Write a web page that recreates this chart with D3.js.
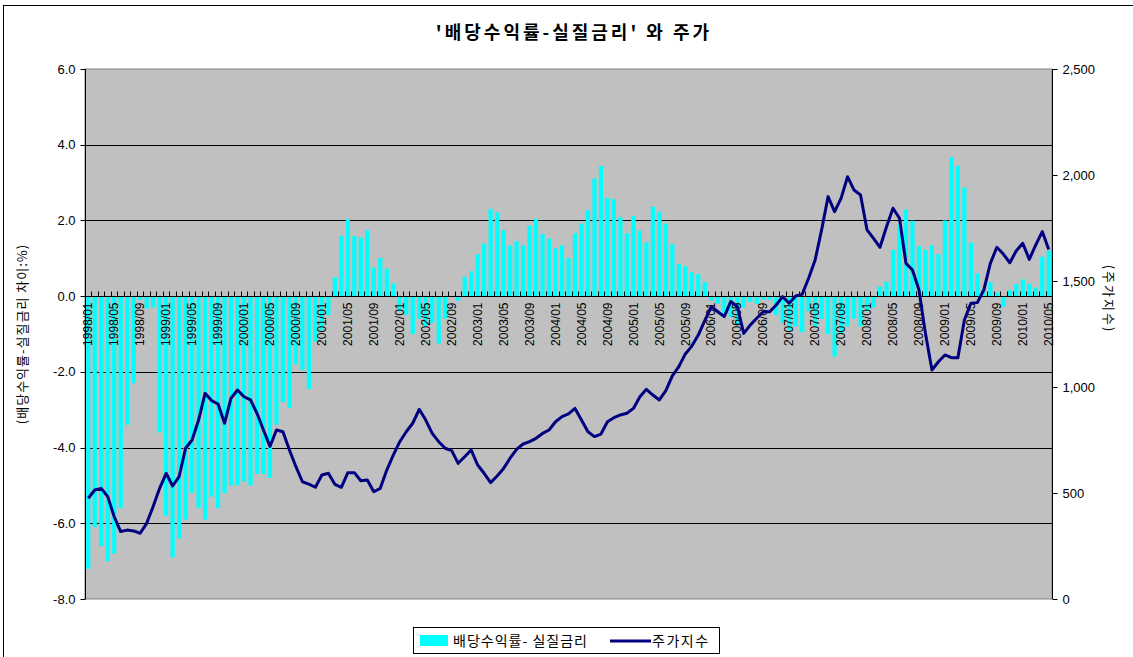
<!DOCTYPE html>
<html>
<head>
<meta charset="utf-8">
<title>배당수익률-실질금리와 주가</title>
<script src="https://d3js.org/d3.v7.min.js"></script>
<style>
  body { margin: 0; background: #fff; }
  text { font-family: "Liberation Sans", Arial, sans-serif; }
  .kr { font-family: "Noto Sans CJK KR", "Noto Sans", sans-serif; }
</style>
</head>
<body>
<svg width="1133" height="657"></svg>
<script>
// months 1998/01 .. 2010/05
const months = [
  "1998/01","1998/02","1998/03","1998/04","1998/05","1998/06","1998/07","1998/08","1998/09","1998/10","1998/11","1998/12",
  "1999/01","1999/02","1999/03","1999/04","1999/05","1999/06","1999/07","1999/08","1999/09","1999/10","1999/11","1999/12",
  "2000/01","2000/02","2000/03","2000/04","2000/05","2000/06","2000/07","2000/08","2000/09","2000/10","2000/11","2000/12",
  "2001/01","2001/02","2001/03","2001/04","2001/05","2001/06","2001/07","2001/08","2001/09","2001/10","2001/11","2001/12",
  "2002/01","2002/02","2002/03","2002/04","2002/05","2002/06","2002/07","2002/08","2002/09","2002/10","2002/11","2002/12",
  "2003/01","2003/02","2003/03","2003/04","2003/05","2003/06","2003/07","2003/08","2003/09","2003/10","2003/11","2003/12",
  "2004/01","2004/02","2004/03","2004/04","2004/05","2004/06","2004/07","2004/08","2004/09","2004/10","2004/11","2004/12",
  "2005/01","2005/02","2005/03","2005/04","2005/05","2005/06","2005/07","2005/08","2005/09","2005/10","2005/11","2005/12",
  "2006/01","2006/02","2006/03","2006/04","2006/05","2006/06","2006/07","2006/08","2006/09","2006/10","2006/11","2006/12",
  "2007/01","2007/02","2007/03","2007/04","2007/05","2007/06","2007/07","2007/08","2007/09","2007/10","2007/11","2007/12",
  "2008/01","2008/02","2008/03","2008/04","2008/05","2008/06","2008/07","2008/08","2008/09","2008/10","2008/11","2008/12",
  "2009/01","2009/02","2009/03","2009/04","2009/05","2009/06","2009/07","2009/08","2009/09","2009/10","2009/11","2009/12",
  "2010/01","2010/02","2010/03","2010/04","2010/05"
];

// 배당수익률 - 실질금리 (%p)
const spread = [
  -7.2,-6.1,-6.6,-7.0,-6.8,-5.6,-3.4,-2.3,-0.1,-0.33,-0.3,-3.6,
  -5.8,-6.9,-6.4,-5.9,-5.2,-5.6,-5.9,-5.3,-5.6,-5.2,-5.0,-5.0,
  -4.9,-5.0,-4.7,-4.7,-4.8,-3.4,-2.8,-2.95,-1.8,-1.95,-2.45,-1.2,
  -0.9,-0.5,0.5,1.59,2.03,1.59,1.55,1.74,0.76,1.01,0.73,0.34,
  -0.4,-0.5,-1.0,-0.6,-0.8,-0.7,-1.25,-0.6,0.0,-0.12,0.51,0.66,
  1.11,1.39,2.3,2.21,1.74,1.34,1.45,1.34,1.86,2.04,1.64,1.52,
  1.26,1.34,1.01,1.66,1.92,2.27,3.11,3.44,2.6,2.56,2.08,1.66,
  2.11,1.73,1.42,2.36,2.23,1.92,1.37,0.85,0.79,0.63,0.58,0.37,
  -0.12,-0.2,-0.45,-0.55,-0.75,-0.3,-0.15,-0.2,-0.1,-0.1,-0.5,-0.7,
  -0.9,-0.8,-0.95,-0.4,-0.8,-0.6,-1.0,-1.6,-1.0,-0.8,-0.6,-0.8,
  -0.4,-0.3,0.25,0.38,1.22,1.9,2.29,1.99,1.32,1.22,1.34,1.11,
  2.0,3.67,3.44,2.87,1.41,0.6,0.2,0.37,0.09,-0.28,0.16,0.32,
  0.44,0.33,0.23,1.04,1.2
];

// 주가지수
const kospi = [
  475,514,522,483,388,318,325,321,310,357,436,522,
  593,533,577,711,750,844,970,936,920,829,947,986,
  954,939,876,797,719,797,789,703,624,553,542,527,
  585,593,541,527,596,596,558,561,506,522,608,679,
  742,789,829,895,844,781,742,711,700,640,671,703,
  632,593,549,580,616,664,706,731,742,758,781,797,
  836,860,873,899,844,789,766,778,836,855,868,876,
  899,954,989,962,939,983,1052,1096,1156,1193,1245,1313,
  1379,1355,1332,1403,1380,1253,1292,1324,1355,1355,1387,1426,
  1395,1429,1437,1513,1599,1741,1898,1827,1890,1992,1929,1906,
  1741,1701,1659,1756,1843,1796,1583,1552,1458,1253,1080,1119,
  1151,1138,1138,1316,1395,1398,1458,1583,1659,1627,1586,1643,
  1678,1602,1670,1733,1649
];

const leftTicks = [6, 4, 2, 0, -2, -4, -6, -8];
const rightTicks = [0, 500, 1000, 1500, 2000, 2500];

const title = "'배당수익률-실질금리' 와 주가";
const leftTitle = "(배당수익률-실질금리 차이:%)";
const rightTitle = "(주가지수)";
const barName = "배당수익률- 실질금리";
const lineName = "주가지수";

const plotL = 85, plotR = 1052, plotT = 69, plotB = 599;

const svg = d3.select("svg");

// outer chart border
svg.append("rect")
    .attr("x", 3.5).attr("y", 5.5)
    .attr("width", 1160).attr("height", 700)
    .attr("fill", "#fff").attr("stroke", "#000");

// plot area
svg.append("rect")
    .attr("x", plotL).attr("y", plotT)
    .attr("width", plotR - plotL).attr("height", plotB - plotT)
    .attr("fill", "#c0c0c0").attr("stroke", "#808080");

const x = d3.scaleBand().domain(months).range([plotL, plotR])
    .paddingInner(0.35).paddingOuter(0.175);
const yL = d3.scaleLinear().domain([-8, 6]).range([plotB, plotT]);
const yR = d3.scaleLinear().domain([0, 2500]).range([plotB, plotT]);

// gridlines
svg.append("g").selectAll("line")
    .data(leftTicks.filter(d => d !== 6 && d !== -8))
    .enter().append("line")
    .attr("x1", plotL).attr("x2", plotR)
    .attr("y1", d => Math.round(yL(d)) + 0.5).attr("y2", d => Math.round(yL(d)) + 0.5)
    .attr("stroke", "#000");

// bars
svg.append("g").selectAll("rect")
    .data(months)
    .enter().append("rect")
    .attr("x", d => x(d))
    .attr("width", x.bandwidth())
    .attr("y", (d, i) => yL(Math.max(0, spread[i])))
    .attr("height", (d, i) => Math.abs(yL(spread[i]) - yL(0)))
    .attr("fill", "#00ffff");

// category axis on zero line
const y0 = Math.round(yL(0)) + 0.5;
svg.append("line")
    .attr("x1", plotL).attr("x2", plotR)
    .attr("y1", y0).attr("y2", y0)
    .attr("stroke", "#000");
svg.append("g").selectAll("line")
    .data(months)
    .enter().append("line")
    .attr("x1", d => Math.round(x(d) - x.step() * x.paddingInner() / 2) + 0.5)
    .attr("x2", d => Math.round(x(d) - x.step() * x.paddingInner() / 2) + 0.5)
    .attr("y1", y0 - 5).attr("y2", y0)
    .attr("stroke", "#000");

svg.append("g").selectAll("text")
    .data(months.filter((d, i) => i % 4 === 0))
    .enter().append("text")
    .attr("transform", d => `translate(${x(d) + x.bandwidth() / 2},${y0 + 6}) rotate(-90)`)
    .attr("dy", "0.35em")
    .attr("text-anchor", "end")
    .attr("font-size", "12px")
    .attr("fill", "#000")
    .text(d => d);

// line
const line = d3.line()
    .x((d, i) => x(months[i]) + x.bandwidth() / 2)
    .y(d => yR(d));
svg.append("path")
    .datum(kospi)
    .attr("d", line)
    .attr("fill", "none")
    .attr("stroke", "#000080")
    .attr("stroke-width", 3)
    .attr("stroke-linejoin", "round");

// left axis
const leftAxis = svg.append("g").attr("transform", `translate(${plotL + 0.5},0)`);
leftAxis.append("line").attr("y1", plotT).attr("y2", plotB).attr("stroke", "#000");
leftAxis.selectAll("line.tick").data(leftTicks).enter().append("line")
    .attr("class", "tick")
    .attr("x1", -5).attr("x2", 0)
    .attr("y1", d => Math.round(yL(d)) + 0.5).attr("y2", d => Math.round(yL(d)) + 0.5)
    .attr("stroke", "#000");
leftAxis.selectAll("text").data(leftTicks).enter().append("text")
    .attr("x", -10).attr("y", d => yL(d))
    .attr("dy", "0.35em").attr("text-anchor", "end")
    .attr("font-size", "13px")
    .text(d => d.toFixed(1));

// right axis
const rightAxis = svg.append("g").attr("transform", `translate(${plotR + 0.5},0)`);
rightAxis.append("line").attr("y1", plotT).attr("y2", plotB).attr("stroke", "#000");
rightAxis.selectAll("line.tick").data(rightTicks).enter().append("line")
    .attr("class", "tick")
    .attr("x1", 0).attr("x2", 5)
    .attr("y1", d => Math.round(yR(d)) + 0.5).attr("y2", d => Math.round(yR(d)) + 0.5)
    .attr("stroke", "#000");
rightAxis.selectAll("text").data(rightTicks).enter().append("text")
    .attr("x", 10).attr("y", d => yR(d))
    .attr("dy", "0.35em").attr("text-anchor", "start")
    .attr("font-size", "13px")
    .text(d => d3.format(",")(d));

// titles
svg.append("text")
    .attr("class", "kr")
    .attr("x", 574).attr("y", 39)
    .attr("text-anchor", "middle")
    .attr("font-size", "18px").attr("font-weight", "bold")
    .attr("letter-spacing", "3px")
    .text(title);

svg.append("text")
    .attr("class", "kr")
    .attr("transform", "translate(22,334) rotate(-90)")
    .attr("dy", "0.35em")
    .attr("text-anchor", "middle")
    .attr("font-size", "13px")
    .attr("letter-spacing", "1px")
    .text(leftTitle);

svg.append("text")
    .attr("class", "kr")
    .attr("transform", "translate(1109,299) rotate(90)")
    .attr("dy", "0.35em")
    .attr("text-anchor", "middle")
    .attr("font-size", "13px")
    .attr("letter-spacing", "2px")
    .text(rightTitle);

// legend
const legend = svg.append("g");
legend.append("rect")
    .attr("x", 413.5).attr("y", 627.5)
    .attr("width", 306).attr("height", 26)
    .attr("fill", "#fff").attr("stroke", "#000");
legend.append("rect")
    .attr("x", 420).attr("y", 635)
    .attr("width", 28).attr("height", 11)
    .attr("fill", "#00ffff");
legend.append("text")
    .attr("class", "kr")
    .attr("x", 453).attr("y", 641)
    .attr("dy", "0.35em")
    .attr("font-size", "14px")
    .attr("letter-spacing", "1px")
    .text(barName);
legend.append("line")
    .attr("x1", 610).attr("x2", 651)
    .attr("y1", 641).attr("y2", 641)
    .attr("stroke", "#000080").attr("stroke-width", 3);
legend.append("text")
    .attr("class", "kr")
    .attr("x", 652).attr("y", 641)
    .attr("dy", "0.35em")
    .attr("font-size", "14px")
    .attr("letter-spacing", "1.5px")
    .text(lineName);
</script>
</body>
</html>
